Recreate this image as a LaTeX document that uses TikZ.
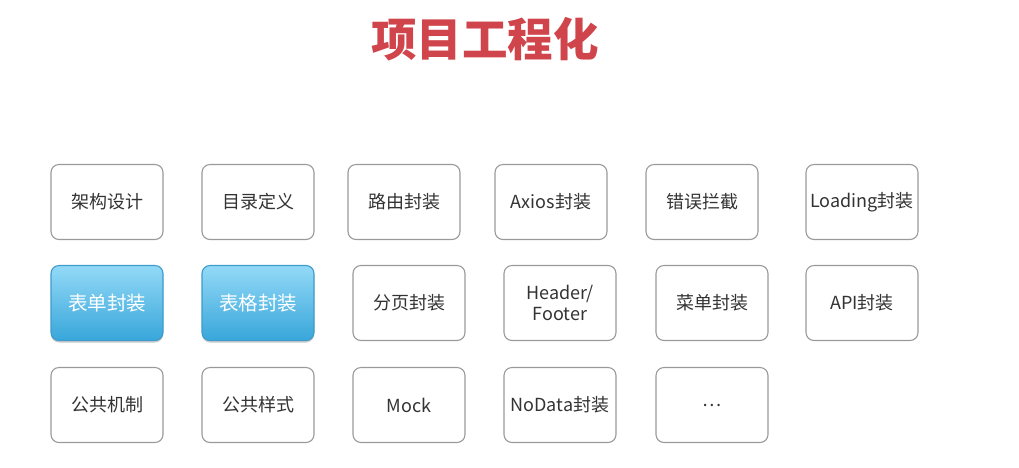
\documentclass[tikz,border=0pt]{standalone}
\usepackage{fontspec}
\setmainfont{Noto Sans CJK SC}
\newfontfamily\titlefont{Noto Sans CJK SC}
\usetikzlibrary{shadows}
\definecolor{titlered}{HTML}{D0454B}
\definecolor{boxgray}{HTML}{9A9A9A}
\definecolor{txtgray}{HTML}{333333}
\definecolor{bluetop}{HTML}{93D9F7}
\definecolor{bluebot}{HTML}{38A6DA}
\definecolor{blueedge}{HTML}{3C9CCB}
\tikzset{
  card/.style={draw=boxgray, line width=1.1pt, rounded corners=8pt, fill=white,
    minimum width=112pt, minimum height=75pt, inner sep=0pt, align=center,
    font=\fontsize{18}{21}\selectfont, text=txtgray},
  bluecard/.style={card, draw=blueedge, top color=bluetop, bottom color=bluebot,
    text=white, font=\fontsize{19.5}{23}\selectfont,
    drop shadow={shadow xshift=0pt, shadow yshift=-2pt, opacity=0.35, fill=black!60}},
}
\begin{document}
\begin{tikzpicture}[x=1pt,y=-1pt]
\useasboundingbox[fill=white] (0,0) rectangle (1019,467);
\node[font=\titlefont\fontsize{45.5}{50}\selectfont\bfseries, text=titlered] (title) at (485,39) {项目工程化};
% row 1
\node[card] (a1) at (107,202) {架构设计};
\node[card] (a2) at (258,202) {目录定义};
\node[card] (a3) at (404,202) {路由封装};
\node[card] (a4) at (551,202) {Axios封装};
\node[card] (a5) at (702,202) {错误拦截};
\node[card] (a6) at (862,202) {Loading封装};
% row 2
\node[bluecard] (b1) at (107,303) {表单封装};
\node[bluecard] (b2) at (258,303) {表格封装};
\node[card] (b3) at (409,303) {分页封装};
\node[card] (b4) at (560,303) {Header/\\Footer};
\node[card] (b5) at (712,303) {菜单封装};
\node[card] (b6) at (862,303) {API封装};
% row 3
\node[card] (c1) at (107,405) {公共机制};
\node[card] (c2) at (258,405) {公共样式};
\node[card] (c3) at (409,405) {Mock};
\node[card] (c4) at (560,405) {NoData封装};
\node[card] (c5) at (712,405) {\textellipsis};
\end{tikzpicture}
\end{document}
